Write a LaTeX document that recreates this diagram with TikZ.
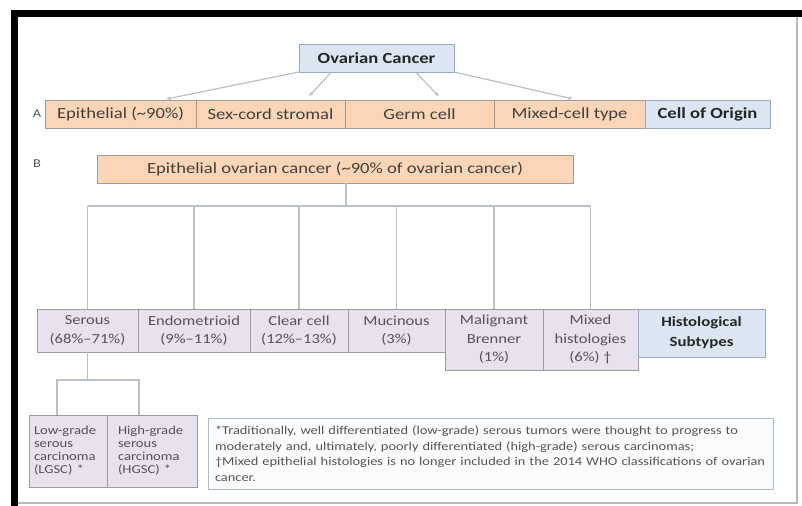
\documentclass[tikz,border=0pt]{standalone}
\usepackage{xcolor}
\usepackage{fontspec}
\setmainfont[FakeStretch=1.2]{Carlito}
\usetikzlibrary{positioning, calc, arrows.meta}

\definecolor{orfill}{RGB}{251,213,181}
\definecolor{blfill}{RGB}{220,230,242}
\definecolor{blline}{RGB}{150,170,195}
\definecolor{lvfill}{RGB}{232,225,238}
\definecolor{boxline}{RGB}{155,155,160}
\definecolor{linkgray}{RGB}{185,192,202}
\definecolor{txtgray}{RGB}{85,85,85}
\definecolor{noteline}{RGB}{165,192,210}
\definecolor{notefill}{RGB}{250,252,254}

\begin{document}
\begin{tikzpicture}[x=1bp, y=-1bp,
    every node/.style={inner sep=0pt, outer sep=0pt},
    cellA/.style={draw=boxline, fill=orfill, line width=0.8bp, minimum height=28bp,
        text=black!75, font=\fontsize{15.5bp}{18bp}\selectfont},
    topbox/.style={draw=blline, fill=blfill, line width=0.8bp, minimum height=28bp,
        text=black!85, font=\fontsize{15.5bp}{18bp}\selectfont\bfseries},
    cellB/.style={draw=boxline, fill=lvfill, line width=0.8bp, align=center,
        text=txtgray, font=\fontsize{13.8bp}{18.5bp}\selectfont},
    gradebox/.style={draw=boxline, fill=lvfill, line width=0.8bp, minimum height=72bp,
        text width=68bp, align=left, text=txtgray, font=\fontsize{12.2bp}{13bp}\selectfont},
    note/.style={draw=noteline, fill=notefill, line width=1bp, text width=551bp, align=left,
        text=txtgray, font=\fontsize{12bp}{15.5bp}\selectfont},
    link/.style={draw=linkgray, line width=1.2bp},
    tip/.style={link, -{Latex[length=4bp,width=4bp]}, shorten >=5bp},
    lab/.style={text=txtgray, font=\fontsize{12bp}{14bp}\selectfont}
]
\useasboundingbox (0,0) rectangle (802,506);
\fill[white] (0,0) rectangle (802,506);
% Frame
\draw[black, line width=7bp] (14,506) -- (14,13.5) -- (802,13.5);
\draw[gray!55, line width=1.5bp] (17.5,503) -- (797,503) -- (797,17);

% A: cell of origin
\node[topbox, minimum width=155bp, anchor=north west] (ovc) at (299,44) {Ovarian Cancer};
\node[lab] (labA) at (37,114) {A};
\node[cellA, minimum width=151bp, anchor=north west] (epi) at (45,100) {Epithelial (\textasciitilde90\%)};
\node[cellA, minimum width=149bp, anchor=north west] (sex) at (epi.north east) {Sex-cord stromal};
\node[cellA, minimum width=149bp, anchor=north west] (germ) at (sex.north east) {Germ cell};
\node[cellA, minimum width=151bp, anchor=north west] (mixc) at (germ.north east) {Mixed-cell type};
\node[topbox, minimum width=125bp, anchor=north west] (origin) at (mixc.north east) {Cell of Origin};

\draw[tip] (ovc.south west) -- ($(epi.north)+(41,0)$);
\draw[tip] ($(ovc.south)+(-45,0)$) -- ($(sex.north)+(35,0)$);
\draw[tip] ($(ovc.south)+(39,0)$) -- ($(germ.north)+(23,0)$);
\draw[tip] (ovc.south east) -- ($(mixc.north)+(8,0)$);

% B: histological subtypes
\node[lab] (labB) at (37,164) {B};
\node[cellA, minimum width=476bp, anchor=north west] (eoc) at (97,155) {Epithelial ovarian cancer (\textasciitilde90\% of ovarian cancer)};

\node[cellB, minimum width=101bp, minimum height=43bp, anchor=north west] (ser) at (37,309) {Serous\\(68\%--71\%)};
\node[cellB, minimum width=112bp, minimum height=43bp, anchor=north west] (endo) at (ser.north east) {Endometrioid\\(9\%--11\%)};
\node[cellB, minimum width=98bp, minimum height=43bp, anchor=north west] (clear) at (endo.north east) {Clear cell\\(12\%--13\%)};
\node[cellB, minimum width=97bp, minimum height=43bp, anchor=north west] (muc) at (clear.north east) {Mucinous\\(3\%)};
\node[cellB, minimum width=98bp, minimum height=61bp, anchor=north west] (bren) at (muc.north east) {Malignant\\Brenner\\(1\%)};
\node[cellB, minimum width=95bp, minimum height=61bp, anchor=north west] (mixh) at (bren.north east) {Mixed\\histologies\\(6\%) †};
\node[topbox, align=center, minimum width=127bp, minimum height=48bp, anchor=north west,
    font=\fontsize{14bp}{20bp}\selectfont\bfseries] (hist) at (mixh.north east) {Histological\\Subtypes};

\coordinate (bar) at (0,206);
\draw[link] ($(eoc.south)+(11,0)$) coordinate (stem) -- (stem |- bar);
\draw[link] (ser.north |- bar) -- (mixh.north |- bar);
\foreach \n in {ser,endo,clear,muc,bren,mixh}
    \draw[link] (\n.north |- bar) -- (\n.north);

% serous grades
\node[gradebox, minimum width=78bp, anchor=north west] (lgsc) at (29,415) {Low-grade\\serous\\carcinoma\\(LGSC) *};
\node[gradebox, minimum width=90bp, anchor=north west] (hgsc) at (lgsc.north east) {High-grade\\serous\\carcinoma\\(HGSC) *};

\coordinate (subbar) at (0,380);
\path ($(lgsc.north)+(-11,0)$) coordinate (lgtop) ($(hgsc.north)+(-13,0)$) coordinate (hgtop);
\draw[link] (ser.south) -- (ser.south |- subbar);
\draw[link] (lgtop) -- (lgtop |- subbar) -- (hgtop |- subbar) -- (hgtop);

% footnotes
\node[note, minimum width=565bp, minimum height=71bp, anchor=north west] (fn) at (208,418)
    {*Traditionally, well differentiated (low-grade) serous tumors were thought to progress to\\
     moderately and, ultimately, poorly differentiated (high-grade) serous carcinomas;\\
     †Mixed epithelial histologies is no longer included in the 2014 WHO classifications of ovarian\\
     cancer.};
\end{tikzpicture}
\end{document}
